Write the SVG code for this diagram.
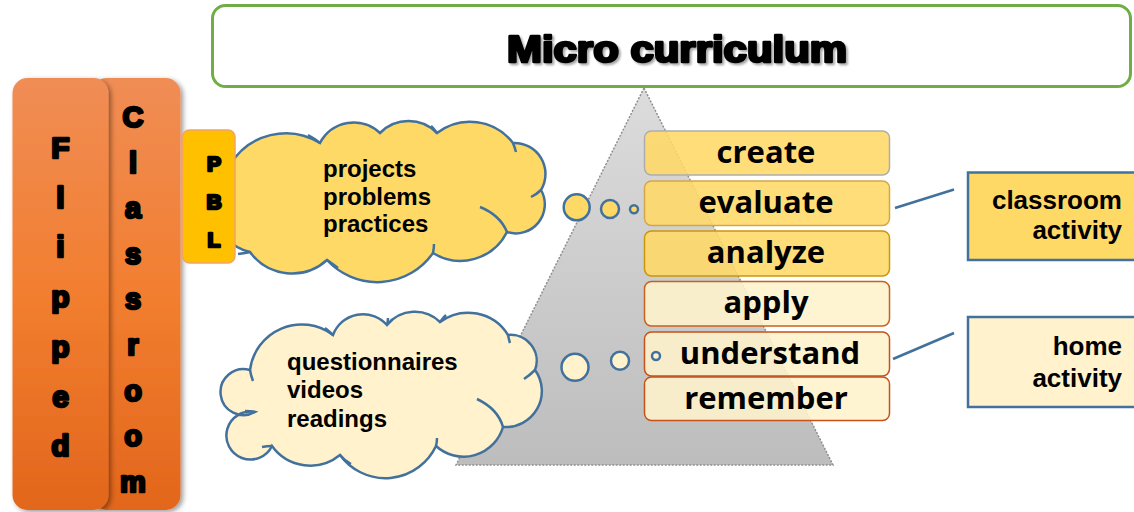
<svg xmlns="http://www.w3.org/2000/svg" width="1134" height="512" viewBox="0 0 1134 512">
<defs>
<linearGradient id="orange" x1="0" y1="0" x2="0" y2="1">
<stop offset="0" stop-color="#F08D55"/>
<stop offset="0.5" stop-color="#F27E30"/>
<stop offset="1" stop-color="#E2661C"/>
</linearGradient>
<linearGradient id="tri" x1="0" y1="0" x2="0" y2="1">
<stop offset="0" stop-color="#DCDCDC"/>
<stop offset="1" stop-color="#BDBDBD"/>
</linearGradient>
<filter id="sh" x="-20%" y="-5%" width="140%" height="110%">
<feDropShadow dx="2.5" dy="2" stdDeviation="2.5" flood-color="#000" flood-opacity="0.4"/>
</filter>
<filter id="tsh" x="-5%" y="-20%" width="110%" height="140%">
<feDropShadow dx="2" dy="2" stdDeviation="1.2" flood-color="#000" flood-opacity="0.35"/>
</filter>
</defs>
<style>
.heavy{font-family:"Liberation Sans",Arial,sans-serif;font-weight:bold;fill:#000;stroke:#000;stroke-width:2.6;stroke-linejoin:round;text-anchor:middle}
.cloudtxt{font-family:"Liberation Sans",Arial,sans-serif;font-weight:bold;font-size:24px;fill:#000}
.lvl{font-family:"Open Sans","Liberation Sans",sans-serif;font-weight:700;font-size:31px;fill:#000;text-anchor:middle}
.act{font-family:"Liberation Sans",Arial,sans-serif;font-weight:bold;font-size:26px;fill:#000;text-anchor:end}
.cloud{stroke:#41719C;stroke-width:2.5}
.inner{fill:none;stroke:#41719C;stroke-width:2.5}
.link{stroke:#41719C;stroke-width:2.5;fill:none}
.hi{fill:#FFD966;fill-opacity:0.88}
.lo{fill:#FFF2CC;fill-opacity:0.88}
</style>

<g id="title">
<rect x="212.5" y="5.5" width="918" height="81" rx="13" fill="#fff" stroke="#70AD47" stroke-width="3"/>
<text x="677" y="62" class="heavy" font-size="36" stroke-width="2" textLength="340" lengthAdjust="spacingAndGlyphs" filter="url(#tsh)">Micro curriculum</text>
</g>

<g id="classroom">
<rect x="92" y="78" width="88.5" height="432" rx="15" fill="url(#orange)" filter="url(#sh)"/>
<text class="heavy" font-size="29"><tspan x="133" y="127">C</tspan><tspan x="133" y="172.6">l</tspan><tspan x="133" y="218.2">a</tspan><tspan x="133" y="263.8">s</tspan><tspan x="133" y="309.4">s</tspan><tspan x="133" y="355">r</tspan><tspan x="133" y="400.6">o</tspan><tspan x="133" y="446.2">o</tspan><tspan x="133" y="491.8">m</tspan></text>
</g>

<g id="flipped">
<rect x="12.5" y="78" width="96" height="432" rx="15" fill="url(#orange)" filter="url(#sh)"/>
<text class="heavy" font-size="30"><tspan x="60.5" y="158">F</tspan><tspan x="60.5" y="207.7">l</tspan><tspan x="60.5" y="257.4">i</tspan><tspan x="60.5" y="307">p</tspan><tspan x="60.5" y="356.8">p</tspan><tspan x="60.5" y="406.5">e</tspan><tspan x="60.5" y="456">d</tspan></text>
</g>

<g id="pyramid">
<polygon points="644,88 833,465 456,465" fill="url(#tri)" stroke="#8F8F8F" stroke-width="1.5" stroke-dasharray="2,1.5"/>
</g>

<g id="cloud-pbl">
<path class="cloud" fill="#FFD966" d="M 230,165 A 65 65 0 0 1 320,143 A 38 38 0 0 1 380,133 A 40 40 0 0 1 437,133 A 54 54 0 0 1 513,143 A 31 31 0 0 1 541,190 A 29 29 0 0 1 507,232 A 52 52 0 0 1 433,253 A 68 68 0 0 1 327,260 A 52 52 0 0 1 250,252 A 50 50 0 0 1 230,165 Z"/>
<path class="inner" d="M 320,143 Q 314,138 308,135"/>
<path class="inner" d="M 437,133 Q 434,129 431,126"/>
<path class="inner" d="M 513,143 Q 515,148 516,152"/>
<path class="inner" d="M 541,190 Q 537,194 531,197"/>
<path class="inner" d="M 480,207 Q 500,215 507,232"/>
<path class="inner" d="M 433,253 Q 434,248 434,244"/>
<path class="inner" d="M 327,260 Q 333,264 338,268"/>
<path class="inner" d="M 250,252 Q 246,253 238,254"/>
<text class="cloudtxt"><tspan x="323" y="177">projects</tspan><tspan x="323" y="205">problems</tspan><tspan x="323" y="232">practices</tspan></text>
</g>

<g id="pbl">
<rect x="182.5" y="130" width="52.5" height="133" rx="7" fill="#FFC000" stroke="#F4A460" stroke-width="1.5"/>
<text class="heavy" font-size="21" stroke-width="2"><tspan x="214" y="171">P</tspan><tspan x="214" y="209">B</tspan><tspan x="214" y="247">L</tspan></text>
</g>

<g id="bubbles-top">
<circle cx="576.7" cy="207.3" r="13" fill="#FFD966" class="cloud"/>
<circle cx="610" cy="209" r="9" fill="#FFD966" class="cloud"/>
<circle cx="634" cy="209.3" r="4" fill="#FFD966" class="cloud"/>
</g>

<g id="cloud-home">
<path class="cloud" fill="#FFF2CC" d="M 250,370 A 52 52 0 0 1 333,335 A 32 32 0 0 1 387,325 A 36 36 0 0 1 440,322 A 47 47 0 0 1 508,335 A 26 26 0 0 1 535,370 A 36 36 0 0 1 503,427 A 41 41 0 0 1 436,446 A 56 56 0 0 1 340,455 A 47 47 0 0 1 272,446 A 24 24 0 1 1 255,412 A 23 23 0 1 1 250,370 Z"/>
<path class="inner" d="M 250,370 Q 251,376 253,381"/>
<path class="inner" d="M 333,335 Q 329,331 325,328"/>
<path class="inner" d="M 387,325 Q 388,321 388,318"/>
<path class="inner" d="M 440,322 Q 443,318 446,315"/>
<path class="inner" d="M 508,335 Q 509,340 510,343"/>
<path class="inner" d="M 535,370 Q 530,375 524,379"/>
<path class="inner" d="M 477,399 Q 498,409 503,427"/>
<path class="inner" d="M 436,446 Q 437,442 437,438"/>
<path class="inner" d="M 340,455 Q 345,461 351,464"/>
<path class="inner" d="M 272,446 Q 267,446 262,447"/>
<path class="inner" d="M 255,412 Q 250,411 245,411"/>
<text class="cloudtxt"><tspan x="287" y="370">questionnaires</tspan><tspan x="287" y="398">videos</tspan><tspan x="287" y="427">readings</tspan></text>
</g>

<g id="bubbles-bottom">
<circle cx="575" cy="367.3" r="13.5" fill="#FFF2CC" class="cloud"/>
<circle cx="620" cy="360.7" r="9" fill="#FFF2CC" class="cloud"/>
</g>

<g id="create">
<rect x="644.5" y="131" width="245" height="44" rx="7" class="hi" stroke="#ADADAD" stroke-width="1.5"/>
<text x="766" y="163" class="lvl">create</text>
</g>
<g id="evaluate">
<rect x="644.5" y="181" width="245" height="44.5" rx="7" class="hi" stroke="#D4A64A" stroke-width="1.5"/>
<text x="766" y="213" class="lvl">evaluate</text>
</g>
<g id="analyze">
<rect x="644.5" y="231" width="245" height="45" rx="7" class="hi" stroke="#C9960C" stroke-width="1.5"/>
<text x="766" y="263" class="lvl">analyze</text>
</g>
<g id="apply">
<rect x="644.5" y="281.5" width="245" height="44.5" rx="7" class="lo" stroke="#C8611E" stroke-width="1.5"/>
<text x="766" y="313" class="lvl">apply</text>
</g>
<g id="understand">
<rect x="644.5" y="332" width="245" height="44" rx="7" class="lo" stroke="#C4521A" stroke-width="1.5"/>
<text x="770" y="364" class="lvl">understand</text>
</g>
<g id="remember">
<rect x="644.5" y="377" width="245" height="43.5" rx="7" class="lo" stroke="#C4521A" stroke-width="1.5"/>
<text x="766" y="409" class="lvl">remember</text>
</g>
<g id="bubble-small-bottom">
<circle cx="656" cy="356" r="4" fill="#FFF2CC" class="cloud"/>
</g>

<g id="connectors">
<line x1="895" y1="208" x2="954" y2="189.5" class="link"/>
<line x1="893" y1="359" x2="954" y2="333" class="link"/>
</g>

<g id="classroom-activity">
<rect x="968" y="172.5" width="170" height="87.5" fill="#FFD966" stroke="#41719C" stroke-width="2.5"/>
<text class="act"><tspan x="1122" y="209">classroom</tspan><tspan x="1122" y="239">activity</tspan></text>
</g>
<g id="home-activity">
<rect x="968" y="317" width="170" height="90" fill="#FFF2CC" stroke="#41719C" stroke-width="2.5"/>
<text class="act"><tspan x="1122" y="355">home</tspan><tspan x="1122" y="387">activity</tspan></text>
</g>
</svg>
